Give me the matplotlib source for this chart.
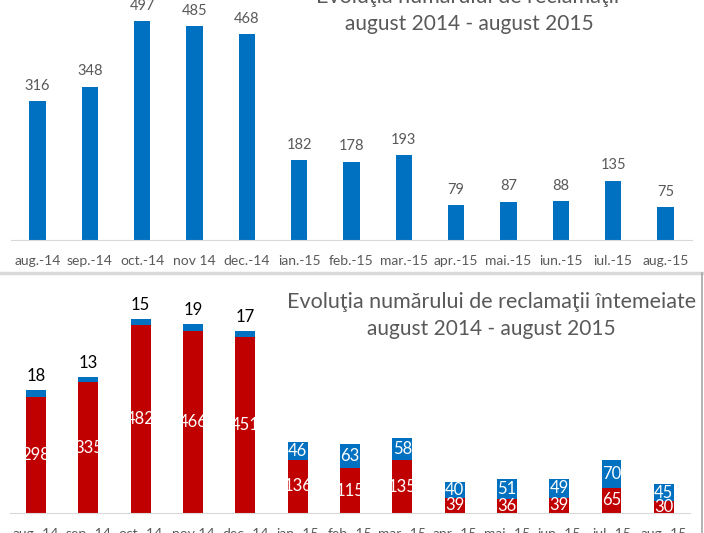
import matplotlib.pyplot as plt
from matplotlib.lines import Line2D

luni = ['aug.-14', 'sep.-14', 'oct.-14', 'nov 14', 'dec.-14', 'ian.-15', 'feb.-15',
        'mar.-15', 'apr.-15', 'mai.-15', 'iun.-15', 'iul.-15', 'aug.-15']
total = [316, 348, 497, 485, 468, 182, 178, 193, 79, 87, 88, 135, 75]
rosu = [298, 335, 482, 466, 451, 136, 115, 135, 39, 36, 39, 65, 30]
albastru = [18, 13, 15, 19, 17, 46, 63, 58, 40, 51, 49, 70, 45]

plt.rcParams['font.family'] = ['Lato', 'DejaVu Sans']

W, H = 704, 533
fig = plt.figure(figsize=(W / 100, H / 100), dpi=100)

blue = '#0070C0'
red = '#C00000'
grey = '#595959'


def box(x0, y0, x1, y1):
    # pixel box, origin top-left -> figure coords
    return [x0 / W, 1 - y1 / H, (x1 - x0) / W, (y1 - y0) / H]


def style(ax):
    for s in ['top', 'left', 'right']:
        ax.spines[s].set_visible(False)
    ax.spines['bottom'].set_color('#D9D9D9')
    ax.set_yticks([])
    ax.tick_params(axis='x', length=0, pad=11, labelsize=10, labelcolor=grey)
    ax.set_xlim(-0.5, len(luni) - 0.5)
    ax.patch.set_alpha(0)


x = list(range(len(luni)))

# top chart
ax1 = fig.add_axes(box(11.3, 0, 691.7, 240))
ax1.bar(x, total, width=0.31, color=blue)
ax1.set_ylim(0, 545)
style(ax1)
ax1.set_xticks(x, luni)
for i, v in enumerate(total):
    ax1.annotate(str(v), (i, v), xytext=(0, 11), textcoords='offset points',
                 ha='center', va='center', fontsize=10.5, color=grey)

fig.text(468 / W, 1 - (-3) / H, 'Evoluţia numărului de reclamaţii', ha='center', va='center',
         fontsize=15.5, color=grey)
fig.text(469 / W, 1 - 24 / H, 'august 2014 - august 2015', ha='center', va='center',
         fontsize=15, color=grey)

# separator and frame of the lower chart
fig.add_artist(Line2D([0, 702 / W], [1 - 273 / H] * 2, transform=fig.transFigure,
                      color='#D9D9D9', lw=2.5))
fig.add_artist(Line2D([702 / W] * 2, [0, 1 - 273 / H], transform=fig.transFigure,
                      color='#A6A6A6', lw=1.2))

# bottom chart
ax2 = fig.add_axes(box(9.85, 290, 690, 513))
ax2.bar(x, rosu, width=0.38, color=red)
ax2.bar(x, albastru, width=0.38, bottom=rosu, color=blue)
ax2.set_ylim(0, 572)
style(ax2)
ax2.set_xticks(x, luni)
for i in x:
    r = rosu[i]
    b = albastru[i]
    ax2.text(i, r / 2, str(r), ha='center', va='center', fontsize=12, color='white')
    if b < 30:
        ax2.annotate(str(b), (i, r + b), xytext=(0, 10), textcoords='offset points',
                     ha='center', va='center', fontsize=12, color='black')
    else:
        ax2.text(i, r + b / 2, str(b), ha='center', va='center', fontsize=12, color='white')

fig.text(492 / W, 1 - 302 / H, 'Evoluţia numărului de reclamaţii întemeiate', ha='center',
         va='center', fontsize=15.5, color=grey)
fig.text(491 / W, 1 - 329 / H, 'august 2014 - august 2015', ha='center', va='center',
         fontsize=15, color=grey)

fig.savefig('out.png', dpi=100)
